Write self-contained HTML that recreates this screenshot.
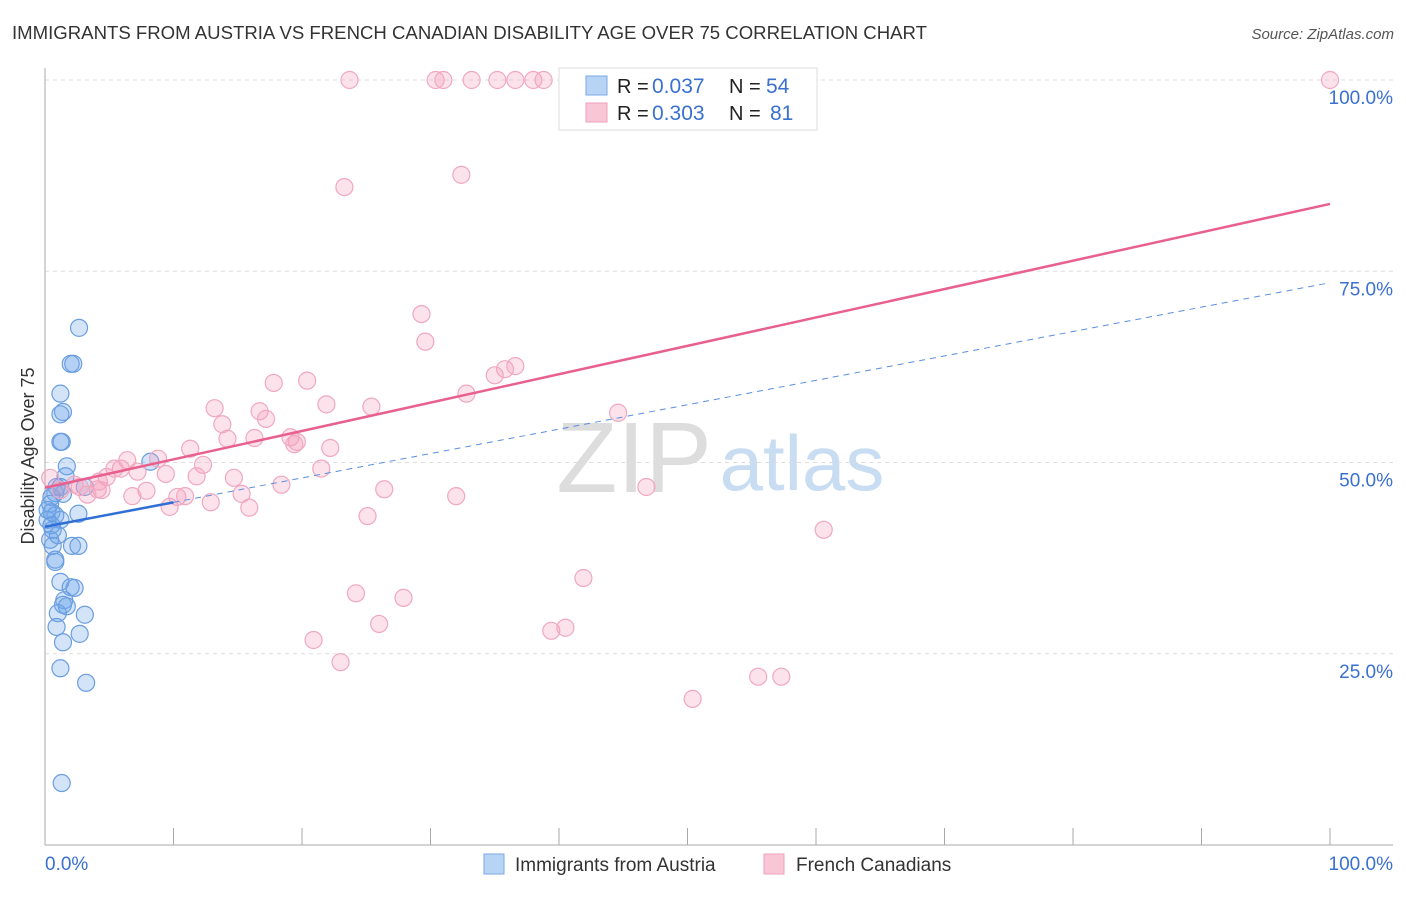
<!DOCTYPE html>
<html><head><meta charset="utf-8"><style>
body{margin:0;background:#fff;font-family:"Liberation Sans",sans-serif;}
svg text{font-family:"Liberation Sans",sans-serif;}
</style></head><body>
<svg id="chart" width="1406" height="892" xmlns="http://www.w3.org/2000/svg">
<text x="12" y="39" font-size="18" fill="#333" textLength="915" lengthAdjust="spacingAndGlyphs">IMMIGRANTS FROM AUSTRIA VS FRENCH CANADIAN DISABILITY AGE OVER 75 CORRELATION CHART</text>
<text x="1394" y="39" font-size="15" fill="#555" text-anchor="end" font-style="italic">Source: ZipAtlas.com</text>
<g>
<text x="634" y="492" font-size="100" fill="#ddd" text-anchor="middle" font-family="Liberation Serif">ZIP</text>
<text x="802" y="490" font-size="78" fill="#c8dcf2" text-anchor="middle">atlas</text>
</g>
<g id="grid"></g>
<g id="axes"></g>
<g id="marks"></g>
<text transform="translate(34,456) rotate(-90)" font-size="18" fill="#333" text-anchor="middle">Disability Age Over 75</text>
<g>
<rect x="559" y="68" width="258" height="62" fill="#fff" stroke="#ddd"/>
<rect x="586" y="76" width="21" height="19" fill="#b8d4f5" stroke="#7aaae6"/>
<rect x="586" y="103" width="21" height="19" fill="#f9c6d6" stroke="#f0a0bb"/>
<text x="617" y="93" font-size="20" fill="#222">R =</text>
<text x="652" y="93" font-size="21" fill="#3a70d0">0.037</text>
<text x="729" y="93" font-size="20" fill="#222">N =</text>
<text x="766" y="93" font-size="21" fill="#3a70d0">54</text>
<text x="617" y="120" font-size="20" fill="#222">R =</text>
<text x="652" y="120" font-size="21" fill="#3a70d0">0.303</text>
<text x="729" y="120" font-size="20" fill="#222">N =</text>
<text x="770" y="120" font-size="21" fill="#3a70d0">81</text>
</g>
<g>
<rect x="484" y="854" width="20" height="20" fill="#b8d4f5" stroke="#7aaae6"/>
<text x="515" y="871" font-size="19" fill="#333">Immigrants from Austria</text>
<rect x="764" y="854" width="20" height="20" fill="#f9c6d6" stroke="#f0a0bb"/>
<text x="796" y="871" font-size="19" fill="#333">French Canadians</text>
</g>
</svg>
<script>
const yTicks=[25,50,75,100];
const yTickLabels=["25.0%","50.0%","75.0%","100.0%"];
const xTicks=[0,10,20,30,40,50,60,70,80,90,100];
const blueX=[2.65,2.0,2.2,1.2,1.4,1.2,1.3,1.2,1.7,1.6,1.2,1.4,0.8,0.5,0.4,0.5,0.8,1.2,2.6,0.2,0.6,0.4,0.6,2.1,2.6,0.8,0.8,1.2,2.0,2.3,1.5,1.4,1.7,1.0,3.1,0.9,2.7,1.4,1.2,3.2,1.3,8.2,3.1,0.9,0.2,0.5,1.0];
const blueY=[67.6,62.9,62.9,59.0,56.6,56.3,52.7,52.7,49.5,48.2,46.8,45.9,46.0,45.5,44.6,43.5,43.1,42.5,43.3,42.5,41.2,39.9,39.1,39.1,39.1,37.3,37.0,34.4,33.7,33.6,32.0,31.4,31.2,30.3,30.1,28.5,27.6,26.5,23.1,21.2,8.1,50.1,46.8,46.8,43.8,41.8,40.5];
const pinkX=[23.7,30.4,31.0,33.2,35.2,36.6,38.0,38.8,52.9,100,23.3,32.4,29.3,29.6,36.6,35.8,35.0,32.8,44.6,17.8,20.4,13.2,16.7,21.9,25.4,13.8,17.2,14.2,16.3,19.1,19.6,19.4,11.3,22.2,12.3,6.4,8.8,5.9,5.4,4.8,7.2,9.4,11.8,14.7,21.5,4.2,4.1,3.3,4.4,7.9,6.8,10.3,10.9,12.9,15.3,18.4,26.4,32.0,46.8,9.7,15.9,25.1,60.6,41.9,24.2,27.9,26.0,39.4,40.5,20.9,23.0,55.5,57.3,50.4,2.7,2.3,1.2,0.4];
const pinkY=[100,100,100,100,100,100,100,100,100,100,86.0,87.6,69.4,65.8,62.6,62.2,61.4,59.0,56.5,60.4,60.7,57.1,56.7,57.6,57.3,55.0,55.7,53.1,53.2,53.3,52.7,52.4,51.8,51.9,49.7,50.3,50.5,49.2,49.2,48.1,48.8,48.5,48.2,48.0,49.2,47.5,46.5,45.8,46.4,46.3,45.6,45.5,45.6,44.8,45.9,47.1,46.5,45.6,46.8,44.2,44.1,43.0,41.2,34.9,32.9,32.3,28.9,28.0,28.4,26.8,23.9,22.0,22.0,19.1,46.8,47.1,46.4,48.0];
const blueTrend=[41.6,73.5];
const blueSolidEnd=10;
const pinkTrend=[46.7,83.8];
const X=v=>45+v*12.85, Y=v=>845-v*7.65;
const NS="http://www.w3.org/2000/svg";
function mk(tag,attrs,parent){const e=document.createElementNS(NS,tag);for(const k in attrs)e.setAttribute(k,attrs[k]);document.getElementById(parent).appendChild(e);return e;}
yTicks.forEach((t,i)=>{
 const g=mk('line',{x1:45,x2:1393,y1:Y(t),y2:Y(t),stroke:'#ddd','stroke-dasharray':'4,4'},'grid');
 
 
 const l=mk('text',{x:1393,y:Y(t)+24,'font-size':19,fill:'#3a70d0','text-anchor':'end'},'grid');
 l.textContent=yTickLabels[i];
 
 
});
let a=mk('line',{x1:45,x2:45,y1:68,y2:845,stroke:'#aaa'},'axes');


a=mk('line',{x1:45,x2:1393,y1:845,y2:845,stroke:'#aaa'},'axes');


xTicks.forEach(t=>{const e=mk('line',{x1:X(t),x2:X(t),y1:828,y2:845,stroke:'#aaa'},'axes');
 
 });
let t=mk('text',{x:45,y:870,'font-size':19,fill:'#3a70d0'},'axes');t.textContent='0.0%';


t=mk('text',{x:1393,y:870,'font-size':19,fill:'#3a70d0','text-anchor':'end'},'axes');t.textContent='100.0%';


blueX.forEach((x,i)=>{const c=mk('circle',{cx:X(x),cy:Y(blueY[i]),r:8.5,fill:'rgba(110,165,235,0.3)',stroke:'#6a9ee0','stroke-width':1.2},'marks');
 
 });
pinkX.forEach((x,i)=>{const c=mk('circle',{cx:X(x),cy:Y(pinkY[i]),r:8.5,fill:'rgba(245,160,190,0.3)',stroke:'#f0a8bf','stroke-width':1.2},'marks');
 
 });
const bAt=x=>blueTrend[0]+(blueTrend[1]-blueTrend[0])*x/100;
let l=mk('line',{x1:X(blueSolidEnd),y1:Y(bAt(blueSolidEnd)),x2:X(100),y2:Y(bAt(100)),stroke:'#5a8ee0','stroke-width':1,'stroke-dasharray':'6,5'},'marks');


l=mk('line',{x1:X(0),y1:Y(bAt(0)),x2:X(blueSolidEnd),y2:Y(bAt(blueSolidEnd)),stroke:'#2f6fd6','stroke-width':2.5},'marks');


l=mk('line',{x1:X(0),y1:Y(pinkTrend[0]),x2:X(100),y2:Y(pinkTrend[1]),stroke:'#e8608e','stroke-width':2.5},'marks');


</script>
</body></html>
